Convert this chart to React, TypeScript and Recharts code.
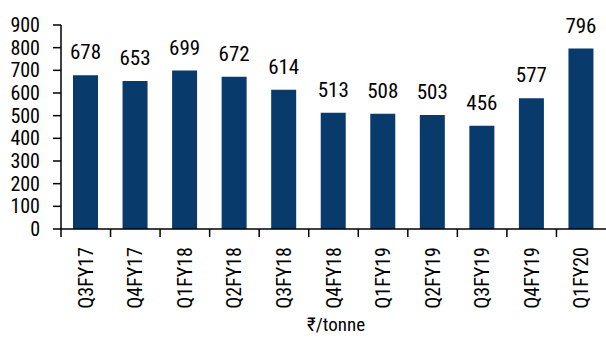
import {Bar, BarChart, LabelList, Legend, XAxis, YAxis} from "recharts";

const quarters = ["Q3FY17", "Q4FY17", "Q1FY18", "Q2FY18", "Q3FY18", "Q4FY18", "Q1FY19", "Q2FY19", "Q3FY19", "Q4FY19", "Q1FY20"];
const perTonne = [678, 653, 699, 672, 614, 513, 508, 503, 456, 577, 796];
const yTicks = [0, 100, 200, 300, 400, 500, 600, 700, 800, 900];

const FONT = "'Liberation Sans Narrow', 'Roboto Condensed', 'Arial Narrow', 'DejaVu Sans Condensed', sans-serif";
const NAVY = "#083a6b";

const data = quarters.map((q, i) => ({quarter: q, value: perTonne[i]}));

function QuarterTick({x, y, payload}: any) {
  const half = payload?.offset ?? 24.8;
  return (
    <g>
      <line x1={x - half} y1={y - 8} x2={x - half} y2={y} stroke="#000" strokeWidth={1.5}/>
      <text
        transform={`translate(${x},${y + 10}) rotate(-90)`}
        textAnchor="end"
        dominantBaseline="central"
        fontFamily={FONT}
        fontSize={20}
        fill="#000"
      >
        {payload.value}
      </text>
    </g>
  );
}

function UnitLegend() {
  return (
    <div style={{width: 606, paddingLeft: 66, boxSizing: "border-box", textAlign: "center", fontFamily: FONT, fontSize: 19, color: "#000"}}>
      ₹/tonne
    </div>
  );
}

export default function App() {
  return (
    <div style={{position: "absolute", left: 0, top: 0, background: "#fff"}}>
      <BarChart width={606} height={340} data={data} margin={{top: 25, right: 0, bottom: 4, left: 0}}>
        <YAxis
          domain={[0, 900]}
          ticks={yTicks}
          interval={0}
          width={61}
          tickSize={8}
          tickMargin={13}
          axisLine={{stroke: "#000", strokeWidth: 1.5}}
          tickLine={{stroke: "#000", strokeWidth: 1.5}}
          tick={{fill: "#000", fontFamily: FONT, fontSize: 20}}
        />
        <XAxis
          dataKey="quarter"
          interval={0}
          height={84}
          tickLine={false}
          axisLine={{stroke: "#000", strokeWidth: 1.5}}
          tick={<QuarterTick/>}
        />
        <Legend verticalAlign="bottom" content={<UnitLegend/>}/>
        <Bar dataKey="value" fill={NAVY} barSize={25} isAnimationActive={false}>
          <LabelList dataKey="value" position="top" offset={16} fill="#000" fontFamily={FONT} fontSize={21}/>
        </Bar>
      </BarChart>
    </div>
  );
}
